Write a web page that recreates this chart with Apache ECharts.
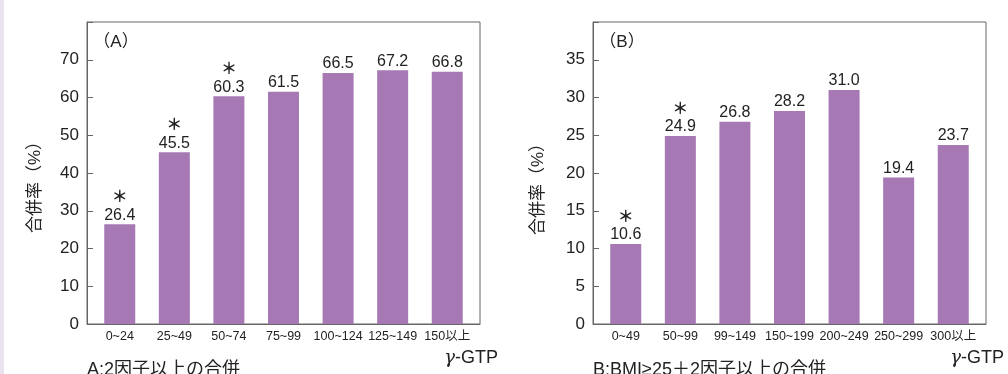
<!DOCTYPE html>
<html>
<head>
<meta charset="utf-8">
<script src="https://cdn.jsdelivr.net/npm/echarts@6/dist/echarts.min.js"></script>
<style>
html,body{margin:0;padding:0;background:#fff;}
#c{width:1008px;height:374px;}
</style>
</head>
<body>
<div id="c"></div>
<script>
// ---- data ----
const catsA = ['0~24','25~49','50~74','75~99','100~124','125~149','150以上'];
const valsA = [26.4, 45.5, 60.3, 61.5, 66.5, 67.2, 66.8];
const starA = [1, 1, 1, 0, 0, 0, 0];

const catsB = ['0~49','50~99','99~149','150~199','200~249','250~299','300以上'];
const valsB = [10.6, 24.9, 26.8, 28.2, 31.0, 19.4, 23.7];
const starB = [1, 1, 0, 0, 0, 0, 0];

const ticksA = [0, 10, 20, 30, 40, 50, 60, 70];
const ticksB = [0, 5, 10, 15, 20, 25, 30, 35];

const yName = '合併率（%）';
const panelA = '（A）';
const panelB = '（B）';
const noteA = 'A:2因子以上の合併';
const noteB = 'B:BMI≥25＋2因子以上の合併';

// ---- chart ----
const chart = echarts.init(document.getElementById('c'), null, {renderer: 'canvas'});
const txt = '#222';
const axisCol = '#666';
const barCol = '#a678b4';
const sans = "'Liberation Sans',Arial,'Noto Sans CJK JP',sans-serif";

function xAx(gi, cats) {
  return {
    gridIndex: gi, type: 'value', min: -0.6, max: 6.6,
    axisLine: {show: true, onZero: false, lineStyle: {color: axisCol, width: 1}},
    axisTick: {show: false},
    splitLine: {show: false},
    axisLabel: {
      customValues: cats.map((c, i) => i),
      showMinLabel: true, showMaxLabel: true,
      formatter: v => cats[Math.round(v)],
      color: txt, fontSize: 12.5, fontFamily: sans, margin: 6
    }
  };
}
function yAx(gi, max, interval, ticks) {
  return {
    gridIndex: gi, type: 'value', min: 0, max: max, interval: interval,
    axisLine: {show: true, onZero: false, lineStyle: {color: axisCol, width: 1}},
    axisTick: {show: true, inside: true, length: 6, lineStyle: {color: axisCol}},
    splitLine: {show: false},
    axisLabel: {
      formatter: v => ticks.indexOf(v) >= 0 ? String(v) : '',
      color: txt, fontSize: 17, fontFamily: sans, margin: 8
    }
  };
}
function series(gi, vals, stars) {
  return {
    type: 'bar', xAxisIndex: gi, yAxisIndex: gi,
    data: vals.map((v, i) => [i, v]),
    barWidth: 31,
    itemStyle: {color: barCol},
    label: {
      show: true, position: 'top', distance: 1,
      formatter: p => (stars[p.dataIndex] ? '{s|＊}\n' : '') + '{v|' + vals[p.dataIndex].toFixed(1) + '}',
      rich: {
        s: {fontSize: 16, lineHeight: 22, fontWeight: 'bold', color: txt, fontFamily: "'Noto Sans CJK JP',sans-serif", align: 'center'},
        v: {fontSize: 16, lineHeight: 16, color: txt, fontFamily: sans, align: 'center'}
      }
    }
  };
}

const T = (x, y, text, size, extra) => Object.assign({
  type: 'text', x: x, y: y,
  style: Object.assign({text: text, fill: txt, font: size + 'px ' + sans}, extra || {})
});
const gtp = {rich: {g: {fontStyle: 'italic', fontSize: 18, fontFamily: 'DejaVu Serif,serif', fill: txt}, t: {fontSize: 18, fontFamily: sans, fill: txt}},
  text: '{g|γ}{t|-GTP}', align: 'right', verticalAlign: 'middle'};

chart.setOption({
  animation: false,
  grid: [
    {left: 87, top: 22, width: 393, height: 302, show: true, borderColor: axisCol, borderWidth: 1},
    {left: 593, top: 22, width: 393, height: 302, show: true, borderColor: axisCol, borderWidth: 1}
  ],
  xAxis: [xAx(0, catsA), xAx(1, catsB)],
  yAxis: [yAx(0, 80, 10, ticksA), yAx(1, 40, 5, ticksB)],
  series: [series(0, valsA, starA), series(1, valsB, starB)],
  graphic: [
    {type: 'rect', shape: {x: 0, y: 0, width: 4, height: 374}, style: {fill: '#ebe3f0'}},
    T(116, 42, panelA, 17, {align: 'center', verticalAlign: 'middle'}),
    T(622, 42, panelB, 17, {align: 'center', verticalAlign: 'middle'}),
    {type: 'text', x: 35, y: 183, rotation: Math.PI / 2,
      style: {text: yName, fill: txt, font: '17px ' + sans, align: 'center', verticalAlign: 'middle'}},
    {type: 'text', x: 538, y: 185, rotation: Math.PI / 2,
      style: {text: yName, fill: txt, font: '17px ' + sans, align: 'center', verticalAlign: 'middle'}},
    {type: 'text', x: 498, y: 358, style: Object.assign({}, gtp)},
    {type: 'text', x: 1004, y: 358, style: Object.assign({}, gtp)},
    T(87, 361, noteA, 18, {align: 'left', verticalAlign: 'top'}),
    T(593, 361, noteB, 18, {align: 'left', verticalAlign: 'top'})
  ]
});
</script>
</body>
</html>
